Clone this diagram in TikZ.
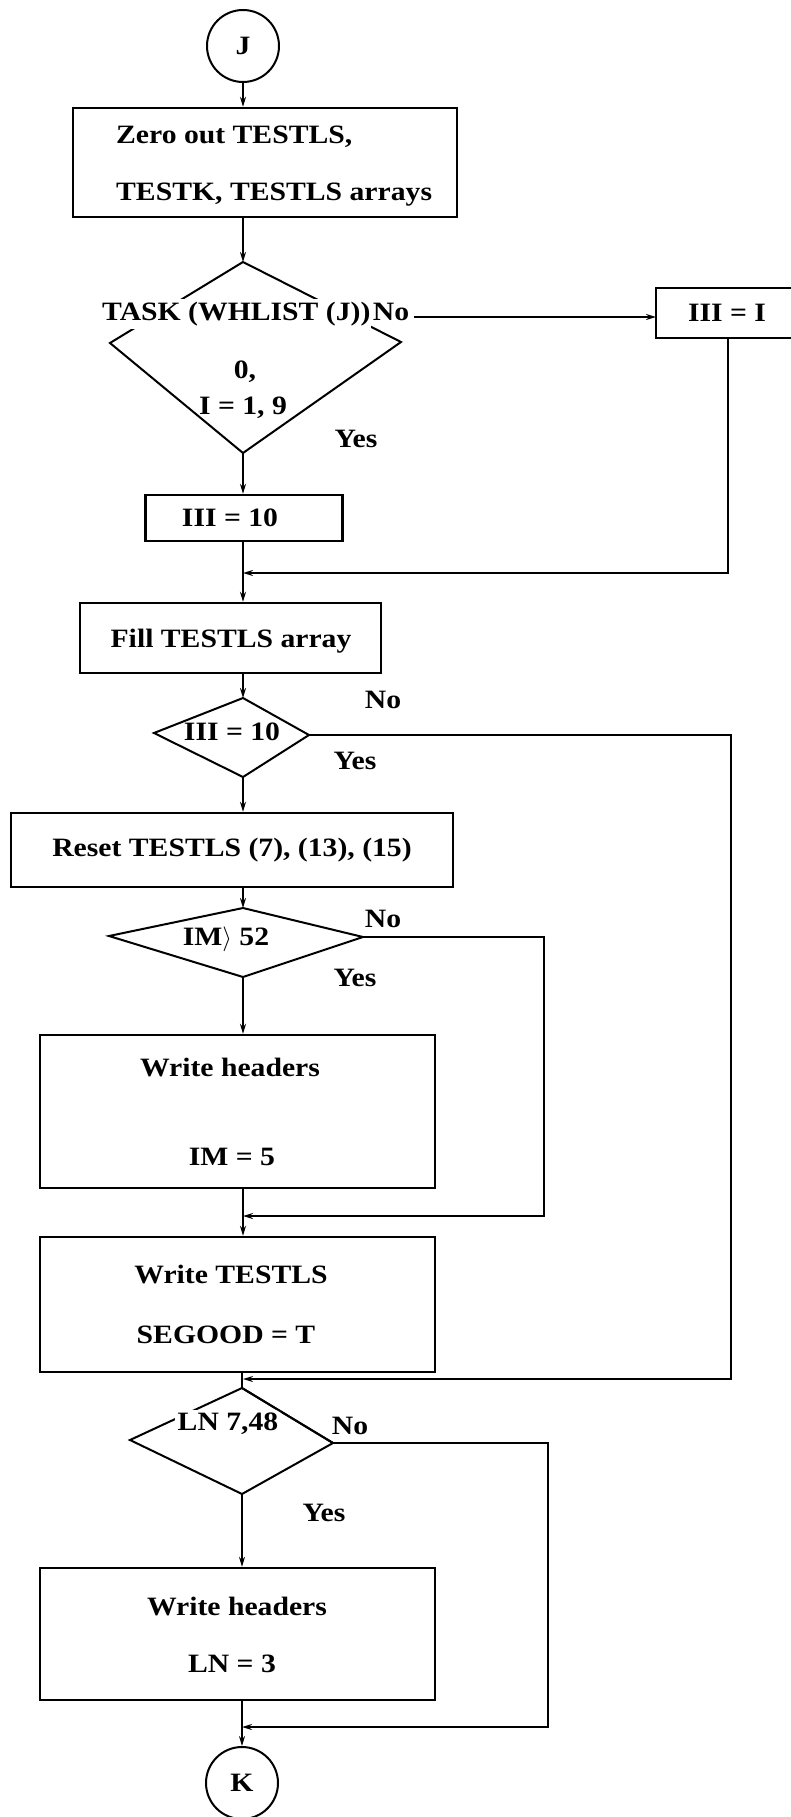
\documentclass[tikz,border=0pt]{standalone}
\usepackage{fontspec}
\usetikzlibrary{arrows.meta,calc}
\newfontfamily\flowserif{Liberation Serif Bold}[FakeStretch=1.12]
\newcommand{\flowfont}{\flowserif\fontsize{26.5}{31}\selectfont}

\tikzset{
  box/.style={draw, line width=2.4pt, rectangle, inner sep=0pt},
  term/.style={draw, line width=2pt, circle, minimum size=72pt, inner sep=0pt, font=\flowfont},
  lbl/.style={inner sep=0pt, font=\flowfont},
  blank/.style={lbl, fill=white, inner xsep=1pt, inner ysep=3pt},
  conn/.style={line width=1.9pt},
  arr/.style={conn, -{Stealth[length=10pt,width=6pt]}},
  dia/.style={line width=2pt, line join=miter},
}

\begin{document}
\begin{tikzpicture}[x=1pt,y=-1pt]
\useasboundingbox (0,0) rectangle (791,1817);
\fill[white] (0,0) rectangle (791,1817);

% entry connector
\node[term] (J) at (243,46) {J};

% zeroing step
\node[box, minimum width=384pt, minimum height=109pt] (zero) at (265,162.5) {};
\node[lbl, anchor=base west] (zeroA) at (116,143) {Zero out TESTLS,};
\node[lbl, anchor=base west] (zeroB) at (116,200) {TESTK, TESTLS arrays};

% first decision
\coordinate (d1t) at (243,262);
\coordinate (d1l) at (110,343);
\coordinate (d1r) at (401,342);
\coordinate (d1b) at (243,453);
\draw[dia] (d1t) -- (d1l) -- (d1b) -- (d1r) -- cycle;
\node[blank, anchor=base west] (task) at (101,320) {TASK (WHLIST (J))};
\node[blank, anchor=base west] (no1) at (task.base east) {No};
\node[lbl] (zero0) at (245,372) {0,};
\node[lbl] (range) at (243,408) {I = 1, 9};
\node[lbl] (yes1) at (356,439) {Yes};

% III = I branch (box runs off the right edge)
\coordinate (noS) at (414,317);
\coordinate (iiiL) at (656,317);
\draw[box] (791,288) -- (656,288) -- (656,338) -- (791,338);
\node[lbl] (iiiI) at (727,313) {III = I};
\coordinate (iiiB) at (728,338);
\coordinate (j1) at (243,573);

% III = 10 step
\node[box, minimum width=197pt, minimum height=46pt] (iii10) at (244,518) {};
\node[lbl] (iii10t) at (230,518) {III = 10};

% fill step
\node[box, minimum width=301pt, minimum height=70pt] (fill) at (230.5,638) {};
\node[lbl] (fillt) at (231,641) {Fill TESTLS array};

% second decision
\coordinate (d2t) at (243,698);
\coordinate (d2l) at (154,733);
\coordinate (d2r) at (309,735);
\coordinate (d2b) at (243,777);
\draw[dia] (d2t) -- (d2l) -- (d2b) -- (d2r) -- cycle;
\node[lbl] (d2txt) at (232,732) {III = 10};
\node[lbl] (no2) at (383,700) {No};
\node[lbl] (yes2) at (355,761) {Yes};
\coordinate (r2) at (731,735);
\coordinate (r2b) at (731,1379);
\coordinate (j4) at (243,1379);

% reset step
\node[box, minimum width=442pt, minimum height=74pt] (reset) at (232,850) {};
\node[lbl] (resett) at (232,850) {Reset TESTLS (7), (13), (15)};

% third decision
\coordinate (d3t) at (243,908);
\coordinate (d3l) at (109,936);
\coordinate (d3r) at (363,937);
\coordinate (d3b) at (243,977);
\draw[dia] (d3t) -- (d3l) -- (d3b) -- (d3r) -- cycle;
\node[lbl] (d3txt) at (226,939) {IM$\rangle$ 52};
\node[lbl] (no3) at (383,919) {No};
\node[lbl] (yes3) at (355,978) {Yes};
\coordinate (r3) at (544,937);
\coordinate (r3b) at (544,1216);
\coordinate (j3) at (243,1216);

% page header step
\node[box, minimum width=395pt, minimum height=153pt] (hdr1) at (237.5,1111.5) {};
\node[lbl] (hdr1a) at (230,1067) {Write headers};
\node[lbl] (hdr1b) at (232,1157) {IM = 5};

% output step
\node[box, minimum width=395pt, minimum height=135pt] (wout) at (237.5,1304.5) {};
\node[lbl] (wouta) at (231,1274) {Write TESTLS};
\node[lbl] (woutb) at (226,1335) {SEGOOD = T};

% fourth decision
\coordinate (d4t) at (242,1388);
\coordinate (d4l) at (130,1440);
\coordinate (d4r) at (333,1443);
\coordinate (d4b) at (242,1494);
\draw[dia] (d4t) -- (d4l) -- (d4b) -- (d4r) -- cycle;
\node[blank, inner xsep=3pt] (d4txt) at (228,1424) {LN 7,48};
\draw[dia] (d4t) -- (d4r);
\node[lbl] (no4) at (350,1426) {No};
\node[lbl] (yes4) at (324,1513) {Yes};
\coordinate (r4) at (548,1443);
\coordinate (r4b) at (548,1727);
\coordinate (j5) at (242,1727);

% second header step
\node[box, minimum width=395pt, minimum height=132pt] (hdr2) at (237.5,1634) {};
\node[lbl] (hdr2a) at (237,1606) {Write headers};
\node[lbl] (hdr2b) at (232,1664) {LN = 3};

% exit connector
\node[term] (K) at (242,1783) {K};

% main flow
\draw[arr] (J.south) -- (J.south |- zero.north);
\draw[arr] (zero.south -| d1t) -- (d1t);
\draw[arr] (d1b) -- (d1b |- iii10.north);
\draw[arr] (iii10.south -| d1b) -- (d1b |- fill.north);
\draw[arr] (fill.south -| d2t) -- (d2t);
\draw[arr] (d2b) -- (d2b |- reset.north);
\draw[arr] (reset.south -| d3t) -- (d3t);
\draw[arr] (d3b) -- (d3b |- hdr1.north);
\draw[arr] (hdr1.south -| d3b) -- (d3b |- wout.north);
\draw[conn] (wout.south -| d4t) -- (d4t);
\draw[arr] (d4b) -- (d4b |- hdr2.north);
\draw[arr] (hdr2.south -| K) -- (K.north);

% side branches
\draw[arr] (noS) -- (iiiL);
\draw[arr] (iiiB) -- (iiiB |- j1) -- (j1);
\draw[arr] (d2r) -- (r2) -- (r2b) -- (j4);
\draw[arr] (d3r) -- (r3) -- (r3b) -- (j3);
\draw[arr] (d4r) -- (r4) -- (r4b) -- (j5);
\end{tikzpicture}
\end{document}
